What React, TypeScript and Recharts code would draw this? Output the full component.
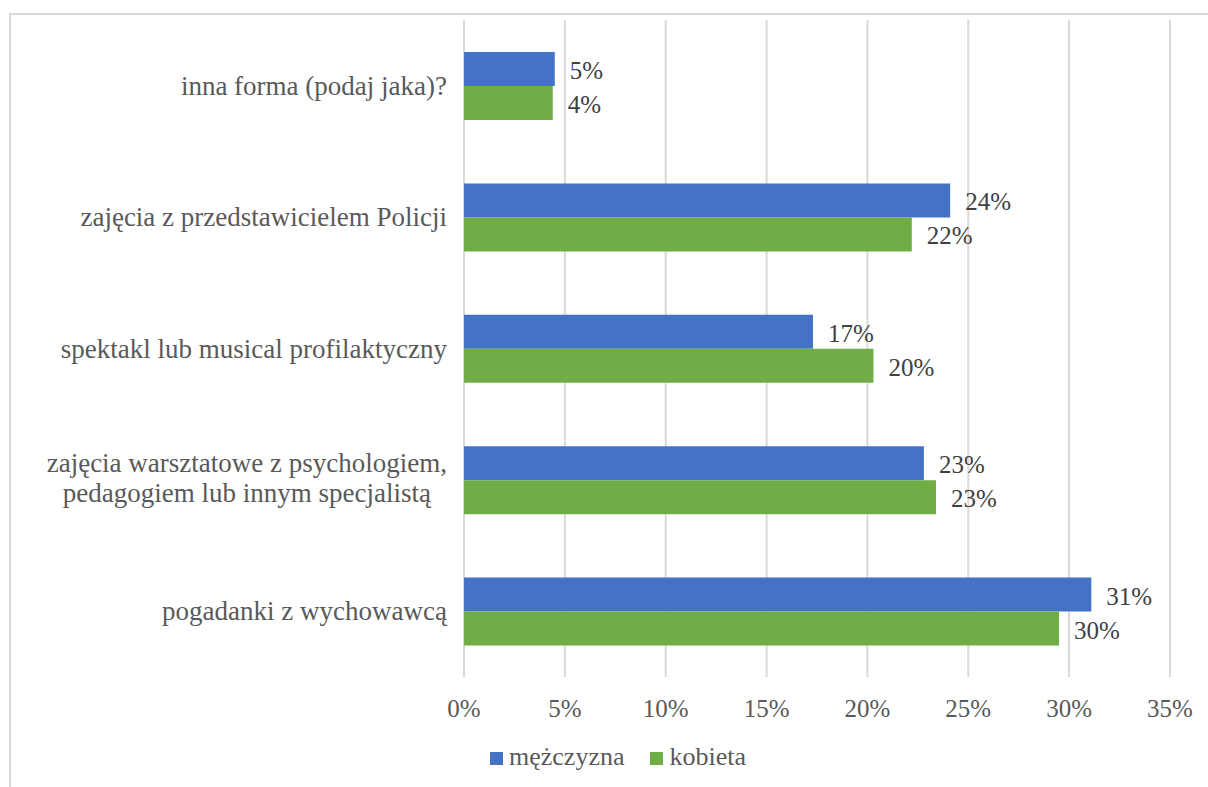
import React from 'react';
import { BarChart, Bar, XAxis, YAxis, CartesianGrid, LabelList, Legend } from 'recharts';

const categories = [
  'inna forma (podaj jaka)?',
  'zajęcia z przedstawicielem Policji',
  'spektakl lub musical profilaktyczny',
  'zajęcia warsztatowe z psychologiem,\npedagogiem lub innym specjalistą',
  'pogadanki z wychowawcą',
];
const menValues = [4.5, 24.1, 17.3, 22.8, 31.1];
const womenValues = [4.4, 22.2, 20.3, 23.4, 29.5];
const xTicks = [0, 5, 10, 15, 20, 25, 30, 35];
const seriesNames = ['mężczyzna', 'kobieta'];
const seriesColors = ['#4472C4', '#70AD47'];

const data = categories.map((c, i) => ({ name: c, m: menValues[i], k: womenValues[i] }));

const FONT = '"Liberation Serif", "Times New Roman", serif';
const CAT_SIZE = 27;
const NUM_SIZE = 25;

let ctx: CanvasRenderingContext2D | null = null;
const measure = (s: string, size: number) => {
  if (!ctx) {
    const c = document.createElement('canvas');
    ctx = c.getContext('2d');
  }
  if (!ctx) return s.length * size * 0.45;
  ctx.font = `${size}px ${FONT}`;
  return ctx.measureText(s).width;
};

const CategoryTick = (props: any) => {
  const { x, y, payload } = props;
  const lines = String(payload.value).split('\n');
  const widths = lines.map((l) => measure(l, CAT_SIZE));
  const maxW = Math.max(...widths);
  const cx = x - maxW / 2;
  const lineH = 30;
  const base = y + 9 - ((lines.length - 1) * lineH) / 2 - (lines.length > 1 ? 2 : 0);
  return (
    <text fill="#595959" fontFamily={FONT} fontSize={CAT_SIZE} textAnchor="middle">
      {lines.map((l, i) => (
        <tspan key={i} x={cx} y={base + i * lineH}>
          {l}
        </tspan>
      ))}
    </text>
  );
};

const XTick = (props: any) => {
  const { x, payload } = props;
  return (
    <text x={x} y={717} fill="#595959" fontFamily={FONT} fontSize={NUM_SIZE} textAnchor="middle">
      {`${payload.value}%`}
    </text>
  );
};

const ValueLabel = (props: any) => {
  const { x, y, width, height, value } = props;
  return (
    <text
      x={x + width + 15}
      y={y + height / 2 + 10}
      fill="#404040"
      fontFamily={FONT}
      fontSize={NUM_SIZE}
      textAnchor="start"
    >
      {`${Math.round(value)}%`}
    </text>
  );
};

const LegendContent = () => (
  <div style={{ display: 'flex', alignItems: 'center', fontFamily: FONT, fontSize: 26, color: '#595959', lineHeight: '30px' }}>
    {seriesNames.map((n, i) => (
      <div key={n} style={{ display: 'flex', alignItems: 'center', marginRight: 26 }}>
        <div style={{ width: 13, height: 13, background: seriesColors[i], marginRight: 6, marginTop: 2 }} />
        <span>{n}</span>
      </div>
    ))}
  </div>
);

export default function App() {
  return (
    <div style={{ position: 'absolute', left: 0, top: 0, width: 1208, height: 787, overflow: 'hidden', background: '#fff' }}>
      <div
        style={{
          position: 'absolute',
          left: 9,
          top: 13,
          width: 1240,
          height: 820,
          border: '2px solid #D9D9D9',
          boxSizing: 'border-box',
        }}
      />
      <div style={{ position: 'absolute', left: 0, top: 0 }}>
        <BarChart
          width={1208}
          height={787}
          data={data}
          layout="vertical"
          margin={{ top: 20, right: 38, left: 0, bottom: 50 }}
          barGap={0}
          barCategoryGap="24%"
        >
          <CartesianGrid horizontal={false} stroke="#D9D9D9" strokeWidth={2} />
          <XAxis
            type="number"
            domain={[0, 35]}
            ticks={xTicks}
            axisLine={false}
            tickLine={false}
            height={60}
            tick={<XTick />}
            interval={0}
          />
          <YAxis
            type="category"
            dataKey="name"
            width={464}
            axisLine={false}
            tickLine={false}
            tickSize={0}
            tickMargin={17}
            tick={<CategoryTick />}
            interval={0}
          />
          <Legend
            layout="horizontal"
            verticalAlign="middle"
            align="center"
            content={<LegendContent />}
            wrapperStyle={{ position: 'absolute', left: 490, top: 742, width: 400, height: 30 }}
          />
          <Bar dataKey="m" name={seriesNames[0]} fill={seriesColors[0]} barSize={34} isAnimationActive={false}>
            <LabelList dataKey="m" content={<ValueLabel />} />
          </Bar>
          <Bar dataKey="k" name={seriesNames[1]} fill={seriesColors[1]} barSize={34} isAnimationActive={false}>
            <LabelList dataKey="k" content={<ValueLabel />} />
          </Bar>
        </BarChart>
      </div>
    </div>
  );
}
